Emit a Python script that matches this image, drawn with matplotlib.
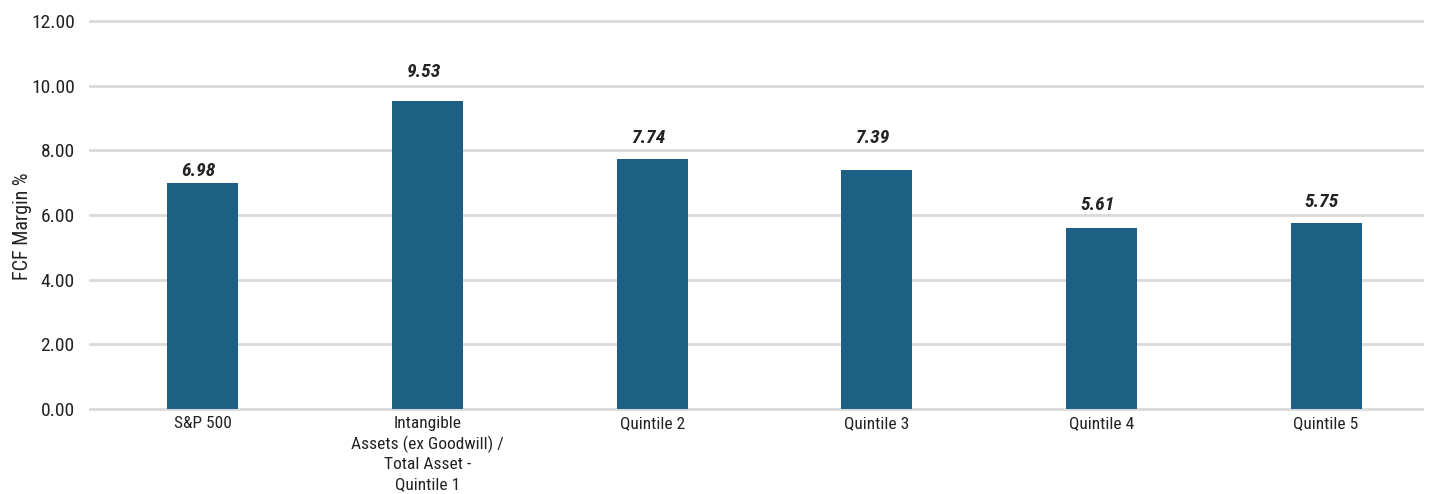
import matplotlib
matplotlib.use("Agg")
import matplotlib.pyplot as plt
from matplotlib import font_manager

categories = [
    "S&P 500",
    "Intangible\nAssets (ex Goodwill) /\nTotal Asset -\nQuintile 1",
    "Quintile 2",
    "Quintile 3",
    "Quintile 4",
    "Quintile 5",
]
fcf_margin = [6.98, 9.53, 7.74, 7.39, 5.61, 5.75]
y_ticks = [0, 2, 4, 6, 8, 10, 12]

# prefer a narrow sans if one is installed
names = {f.name for f in font_manager.fontManager.ttflist}
base = "Liberation Sans"
for cand in ["Roboto Condensed", "Liberation Sans Narrow", "Arial Narrow", "Open Sans Condensed"]:
    if cand in names:
        base = cand
        break
plt.rcParams["font.family"] = [base, "DejaVu Sans"]

bar_color = "#1c6083"
grid_color = "#d9d9d9"
text_color = "#222222"

fig = plt.figure(figsize=(14.33, 4.94), dpi=100)
ax = fig.add_axes([90 / 1433, 1 - 409 / 494, 1332 / 1433, 388 / 494])

x = list(range(len(categories)))
ax.bar(x, fcf_margin, width=0.316, color=bar_color, zorder=3)

# value labels sit at hand-tuned heights above each bar (points)
label_lift = [5, 17, 11, 19.5, 13, 11.5]
for xi, v, lift in zip(x, fcf_margin, label_lift):
    ax.annotate(f"{v:.2f}", xy=(xi, v), xytext=(-3, lift), textcoords="offset points",
                ha="center", va="baseline", fontsize=14, fontweight="bold",
                fontstyle="italic", color=text_color)

ax.set_ylim(0, 12)
ax.set_xlim(-0.503, 5.427)
ax.set_yticks(y_ticks)
ax.set_yticklabels([f"{t:.2f}" for t in y_ticks], fontsize=14, color=text_color)
ax.set_xticks(x)
ax.set_xticklabels(categories, fontsize=12.5, color=text_color, linespacing=1.36)
ax.tick_params(axis="both", length=0)
ax.tick_params(axis="y", pad=11)
ax.tick_params(axis="x", pad=5)

ax.yaxis.grid(True, color=grid_color, linewidth=2, zorder=0)
for gl in ax.get_ygridlines():
    gl.set_clip_on(False)
for s in ax.spines.values():
    s.set_visible(False)

ax.set_ylabel("FCF Margin %", fontsize=14.5, color=text_color)
ax.yaxis.set_label_coords(-0.0435, 0.47)

fig.savefig("out.png", dpi=100)
